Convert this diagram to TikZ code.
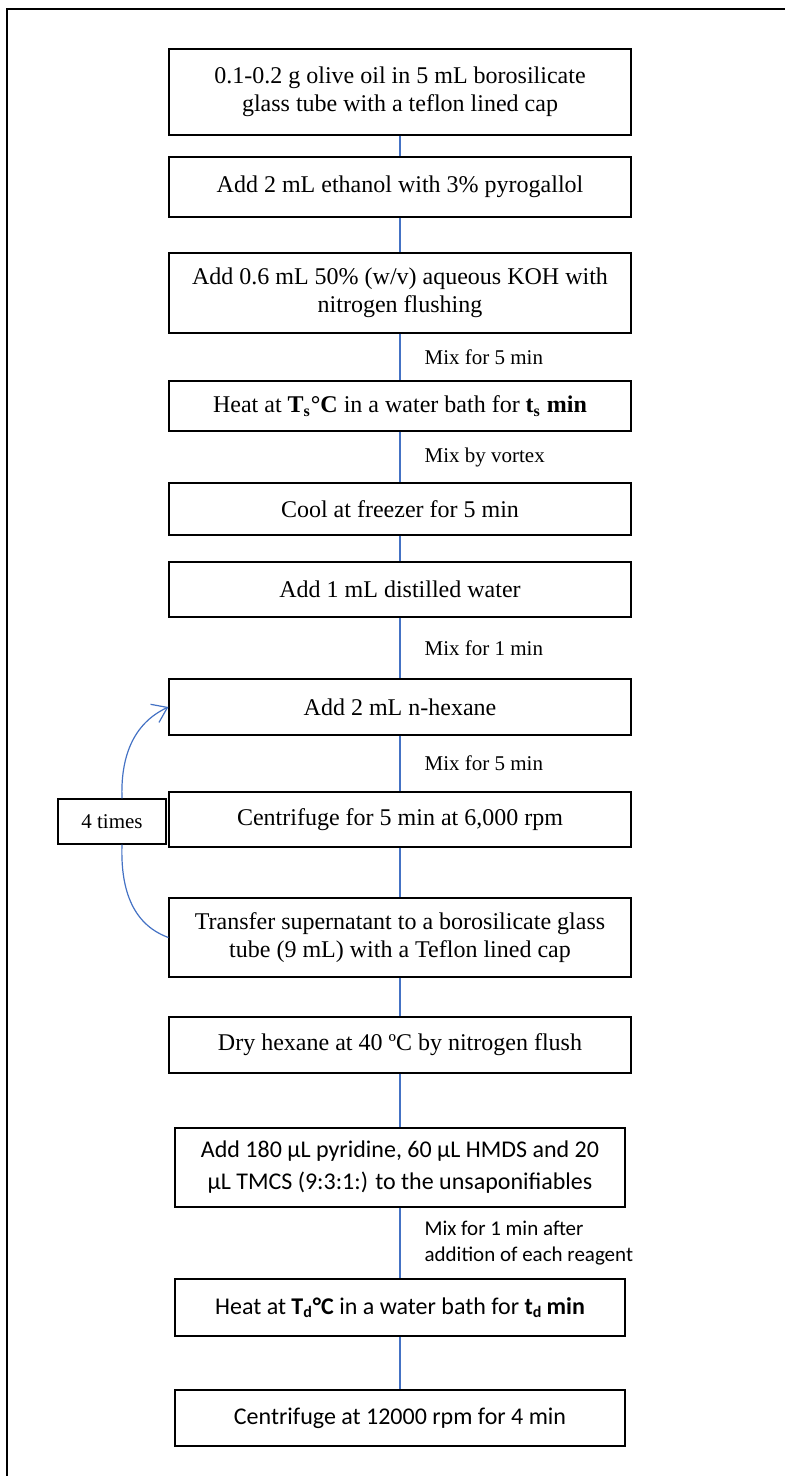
\documentclass[tikz,border=0pt]{standalone}
\usepackage{fontspec}
\setmainfont{Liberation Serif}
\newfontfamily\calibri{Carlito}
\usetikzlibrary{arrows.meta}
\definecolor{lineblue}{RGB}{68,114,196}

\begin{document}
\begin{tikzpicture}[
    x=0.5pt, y=-0.5pt,
    step_box/.style={draw, line width=0.6pt, minimum width=231pt, minimum height=27.5pt, inner sep=2pt, align=center, font=\fontsize{12}{14}\selectfont},
    low_box/.style={step_box, minimum width=225pt, font=\calibri\fontsize{12}{16}\selectfont},
    link/.style={draw=lineblue, line width=0.6pt},
    link_label/.style={midway, anchor=west, xshift=12pt, inner sep=0pt, font=\fontsize{10.5}{13}\selectfont}
]

    \useasboundingbox (0,0) rectangle (784,1476);

    % Frame
    \draw[line width=1.2pt] (7,1480) |- (790,9);

    % Nodes
    \node[step_box, minimum height=43pt] (oil) at (400,92) {0.1-0.2 g olive oil in 5 mL borosilicate\\glass tube with a teflon lined cap};
    \node[step_box, minimum height=30pt] (ethanol) at (400,187) {Add 2 mL ethanol with 3\% pyrogallol};
    \node[step_box, minimum height=40pt] (koh) at (400,293) {Add 0.6 mL 50\% (w/v) aqueous KOH with\\nitrogen flushing};
    \node[step_box, minimum height=25pt] (heat_s) at (400,406) {Heat at \textbf{T\textsubscript{s}°C} in a water bath for \textbf{t\textsubscript{s} min}};
    \node[step_box, minimum height=26pt] (cool) at (400,509) {Cool at freezer for 5 min};
    \node[step_box] (water) at (400,589.5) {Add 1 mL distilled water};
    \node[step_box, minimum height=28pt] (hexane) at (400,707) {Add 2 mL n-hexane};
    \node[step_box] (centri) at (400,819.5) {Centrifuge for 5 min at 6,000 rpm};
    \node[step_box, minimum height=39.5pt] (transfer) at (400,937.5) {Transfer supernatant to a borosilicate glass\\tube (9 mL) with a Teflon lined cap};
    \node[step_box, minimum height=28pt] (dry) at (400,1045) {Dry hexane at 40 ºC by nitrogen flush};
    \node[low_box, minimum height=39.5pt] (silyl) at (400,1167.5) {Add 180 µL pyridine, 60 µL HMDS and 20\\µL TMCS (9:3:1:) to the unsaponifiables};
    \node[low_box, minimum height=28.5pt] (heat_d) at (400,1307.5) {Heat at \textbf{T\textsubscript{d}°C} in a water bath for \textbf{t\textsubscript{d}\,min}};
    \node[low_box, minimum height=28pt] (centri_end) at (400,1418) {Centrifuge at 12000 rpm for 4 min};

    \node[draw, line width=0.6pt, minimum width=54pt, minimum height=22.5pt, inner sep=2pt, font=\fontsize{10.5}{13}\selectfont] (times) at (112,821.5) {4 times};

    % Links
    \draw[link] (oil) -- (ethanol);
    \draw[link] (ethanol) -- (koh);
    \draw[link] (koh) -- (heat_s) node[link_label] {Mix for 5 min};
    \draw[link] (heat_s) -- (cool) node[link_label] {Mix by vortex};
    \draw[link] (cool) -- (water);
    \draw[link] (water) -- (hexane) node[link_label] {Mix for 1 min};
    \draw[link] (hexane) -- (centri) node[link_label] {Mix for 5 min};
    \draw[link] (centri) -- (transfer);
    \draw[link] (transfer) -- (dry);
    \draw[link] (dry) -- (silyl);
    \draw[link] (silyl) -- (heat_d) node[link_label, align=left, font=\calibri\fontsize{10.5}{13}\selectfont] {Mix for 1 min after\\addition of each reagent};
    \draw[link] (heat_d) -- (centri_end);

    % Repeat loop
    \draw[link, -{Straight Barb[length=7pt, width=10pt]}] ([xshift=5pt]times.north) to[out=92, in=205] (hexane.west);
    \draw[link] ([xshift=5pt]times.south) to[out=-92, in=160] (transfer.west);

\end{tikzpicture}
\end{document}
